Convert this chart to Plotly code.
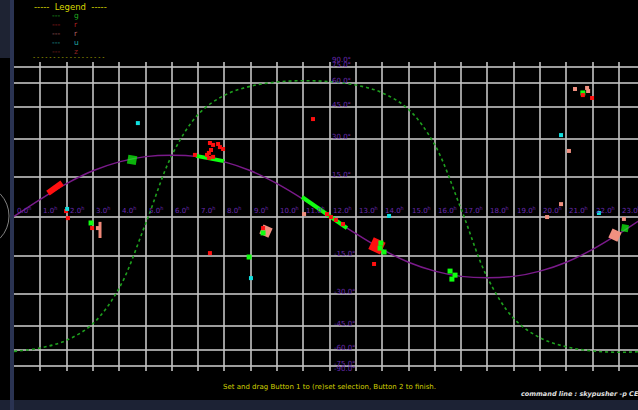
import numpy as np
import plotly.graph_objects as go

# ---------------- data ----------------
hours = list(range(0, 25))
ecl_dec = [0, 6.4, 12.3, 17.2, 20.7, 22.8, 23.4, 22.8, 20.7, 17.2, 12.3, 6.4, 0,
           -6.4, -12.3, -17.2, -20.7, -22.8, -23.4, -22.8, -20.7, -17.2, -12.3, -6.4, 0]
gal_dec = [-60.8, -58.3, -53.2, -43.9, -27.6, -2.8, 23.3, 41.3, 51.7, 57.5, 60.5, 61.5,
           60.8, 58.3, 53.2, 43.9, 27.6, 2.8, -23.3, -41.3, -51.7, -57.5, -60.5, -61.5, -60.8]

red_ra = [11.37, 7.45, 13.69, 1.98, 2.05, 7.45, 7.57, 7.76, 7.83, 7.95, 7.49, 7.41, 7.34,
          6.88, 7.57, 7.41, 11.9, 12.05, 12.51, 12.24, 21.63, 21.98, 9.47, 2.97]
red_dec = [39.1, -13.7, -17.9, 2.0, -0.6, 28.4, 27.6, 28.0, 26.7, 25.9, 25.5, 24.3, 23.5,
           23.5, 22.7, 22.3, 0.9, -0.2, -2.8, -1.3, 51.8, 50.1, -4.3, -4.3]

green_ra = [8.94, 9.47, 2.93, 21.63, 13.92, 14.07, 13.95, 16.58, 16.77, 16.65]
green_dec = [-15.2, -6.1, -2.4, 53.1, -11.8, -13.3, -9.9, -20.7, -22.3, -23.9]

salmon_ra = [11.03, 20.27, 20.8, 21.1, 23.19, 21.33, 21.83, 21.79, 3.19]
salmon_dec = [0.9, -0.2, 4.6, 25.1, -0.9, 55.6, 54.3, 56.3, -4.3]

cyan_ra = [4.71, 9.01, 14.26, 22.24, 20.8, 2.02]
cyan_dec = [37.2, -23.5, 0.2, 1.3, 31.8, 2.8]

box_ra = [3.12, 9.68, 21.65]
box_dec = [-5.0, -7.4, 54.1]

big_red_ra, big_red_dec = [13.8], [-11.0]
big_salmon_ra, big_salmon_dec = [22.85, 9.58], [-6.9, -5.4]
big_green_ra, big_green_dec = [23.23, 4.49], [-4.3, 21.5]

# segments: (ra0, dec0, ra1, dec1)
red_segs = [(1.29, 8.7, 1.83, 12.5)]
green_segs = [(6.92, 23.1, 7.98, 21.0), (10.95, 7.25, 12.66, -4.3)]
salmon_segs = [(3.27, -2.0, 3.27, -8.0)]

ra_labels = [f"{h}.0<sup>h</sup>" for h in range(0, 24)]
dec_grid = [-90, -75, -60, -45, -30, -15, 0, 15, 30, 45, 60, 75, 90]
legend_keys = ["g", "r", "r", "u", "z"]

# ---------------- helpers ----------------
def s(d):
    return np.sin(np.radians(np.asarray(d, dtype=float)))

W, H = 638, 410
L, T, B = 14, 62, 371
def xp(px):
    return (px - L) / (W - L)
def yp(py):
    return (B - py) / (B - T)

fig = go.Figure()

PURPLE = "#7a1a8a"
fig.add_trace(go.Scatter(x=hours, y=s(gal_dec), mode="lines",
                         line=dict(color="#1ea01e", width=1.6, dash="dot", shape="spline"),
                         hoverinfo="skip"))
fig.add_trace(go.Scatter(x=hours, y=s(ecl_dec), mode="lines",
                         line=dict(color=PURPLE, width=1.5, shape="spline"),
                         hoverinfo="skip"))

def add_segs(segs, color, width):
    for r0, d0, r1, d1 in segs:
        fig.add_trace(go.Scatter(x=[r0, r1], y=s([d0, d1]), mode="lines",
                                 line=dict(color=color, width=width)))

add_segs(red_segs, "#ff1010", 6)
add_segs(green_segs, "#10ff10", 4)
add_segs(salmon_segs, "#f08878", 3)

def add_pts(ra, dec, color, size, symbol="circle", angle=0, line=None):
    fig.add_trace(go.Scatter(x=ra, y=s(dec), mode="markers", cliponaxis=False,
                             marker=dict(color=color, size=size, symbol=symbol, angle=angle,
                                         line=line or dict(width=0))))

add_pts(box_ra, box_dec, "rgba(0,0,0,0)", 15, "square-open",
        line=dict(color="#c000c0", width=1.5))
add_pts(big_salmon_ra, big_salmon_dec, "#f09080", 10, "square", angle=25)
add_pts(big_red_ra, big_red_dec, "#ff1010", 13, "square", angle=25)
add_pts(big_green_ra, big_green_dec, "#10ff10", [7, 9], "square", angle=10)
add_pts(salmon_ra, salmon_dec, "#f09080", 4, "square")
add_pts(green_ra, green_dec, "#10ff10", 5, "square")
add_pts(red_ra, red_dec, "#ff1010", 4, "square")
add_pts(cyan_ra, cyan_dec, "#10e0e0", 4, "square")

# ---------------- labels ----------------
LBL = "#6a2ab0"
FONT = "DejaVu Sans"
ann = []
for h, t in zip(range(0, 24), ra_labels):
    ann.append(dict(x=h, y=0, xref="x", yref="y", text=t, showarrow=False,
                    xanchor="left", yanchor="bottom", xshift=1, yshift=0,
                    font=dict(size=7, color=LBL, family=FONT)))
for d in dec_grid:
    if d == 0:
        continue
    ann.append(dict(x=12, y=float(s(d)), xref="x", yref="y", text=f"{d}.0°", showarrow=False,
                    xanchor="left", yanchor="middle", xshift=0 if d > 0 else 2, yshift=2,
                    font=dict(size=7, color=LBL, family=FONT)))

def ptext(px, py, text, size, color, xanchor="center"):
    ann.append(dict(x=xp(px), y=yp(py), xref="paper", yref="paper", text=text,
                    showarrow=False, xanchor=xanchor, yanchor="middle",
                    font=dict(size=size, color=color, family=FONT)))

ptext(70, 7, "-----  Legend  -----", 8.5, "#d8d800")
leg_colors = ["#20b020", "#b02020", "#b06060", "#20a8a8", "#902020"]
for i, (k, c) in enumerate(zip(legend_keys, leg_colors)):
    py = 15.5 + 9 * i
    ptext(56, py, "---", 7.5, c)
    ptext(76, py, k, 7.5, c)
ptext(68, 56, "- - - - - - - - - - - - - - - - - -", 6, "#c8c800")
ptext(329, 387, "Set and drag Button 1 to (re)set selection, Button 2 to finish.", 7, "#d0d000")
ptext(519, 394, "<i><b>command line : skypusher -p CEI</b></i>", 6.5, "#e0e0e0", xanchor="left")

shapes = [
    dict(type="rect", xref="paper", yref="paper", x0=xp(0), x1=xp(638), y0=yp(410), y1=yp(400),
         fillcolor="#1c2234", line=dict(width=0), layer="below"),
    dict(type="rect", xref="paper", yref="paper", x0=xp(0), x1=xp(11), y0=yp(58), y1=yp(0),
         fillcolor="#1e2333", line=dict(width=0), layer="below"),
    dict(type="rect", xref="paper", yref="paper", x0=xp(10), x1=xp(14), y0=yp(410), y1=yp(0),
         fillcolor="#2a3352", line=dict(width=0), layer="below"),
    dict(type="circle", xref="paper", yref="paper", x0=xp(-50), x1=xp(9), y0=yp(247), y1=yp(185),
         line=dict(color="#808080", width=1)),
]

GRID = "rgba(195,195,195,0.8)"
fig.update_layout(
    width=W, height=H, margin=dict(l=L, r=0, t=T, b=H - B),
    paper_bgcolor="black", plot_bgcolor="black", showlegend=False,
    annotations=ann, shapes=shapes,
    xaxis=dict(range=[0, (W - L) / 26.3], tickvals=list(range(0, 25)), showticklabels=False,
               showgrid=True, gridcolor=GRID, gridwidth=1.5, zeroline=False, ticks=""),
    yaxis=dict(range=[-1, 1], tickvals=[float(v) for v in s(dec_grid)], showticklabels=False,
               showgrid=True, gridcolor=GRID, gridwidth=1.5, zeroline=False, ticks=""),
)
fig.write_html("out.html", config={"displayModeBar": False},
               post_script="document.body.style.margin='0';document.body.style.background='black';")
